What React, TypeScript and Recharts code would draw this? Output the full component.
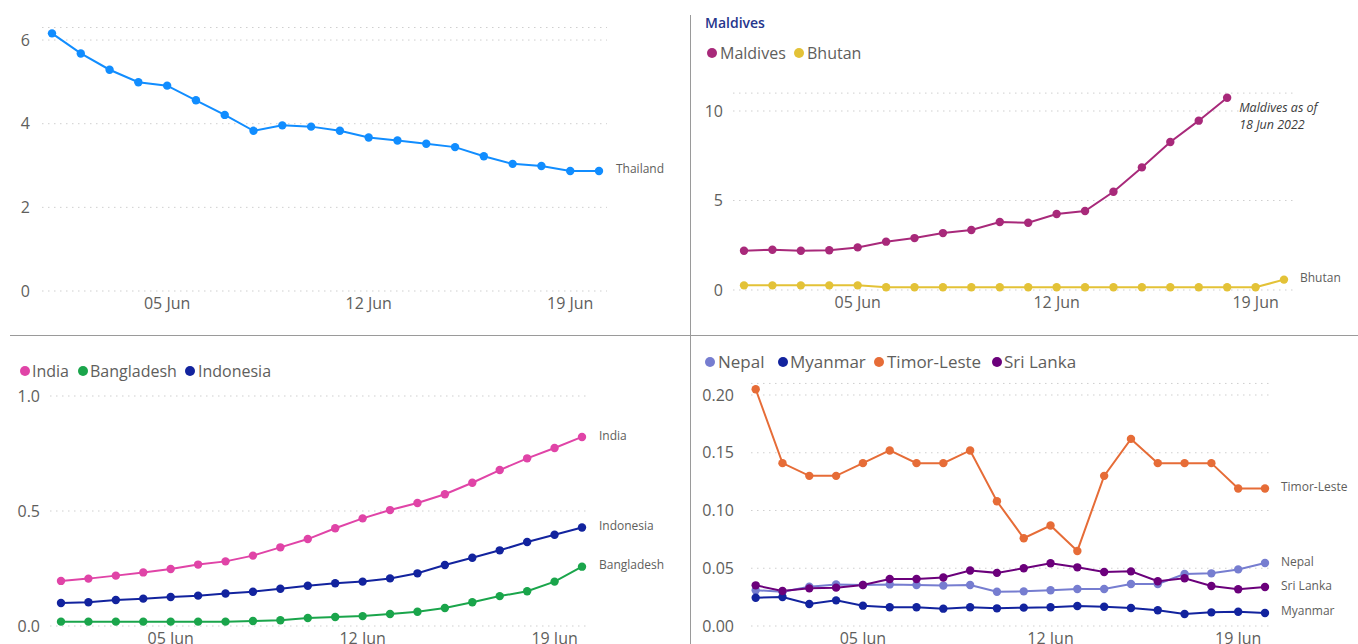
import React from 'react';
import { LineChart, Line, XAxis, YAxis, CartesianGrid } from 'recharts';

// ---------- data ----------
const days = [1, 2, 3, 4, 5, 6, 7, 8, 9, 10, 11, 12, 13, 14, 15, 16, 17, 18, 19, 20];
const xTickDays = [5, 12, 19];

const thailand = [6.16, 5.68, 5.29, 4.99, 4.91, 4.56, 4.21, 3.83, 3.96, 3.93, 3.83, 3.67, 3.6, 3.52, 3.44, 3.22, 3.04, 2.99, 2.87, 2.87];

const maldives = [2.19, 2.25, 2.19, 2.22, 2.38, 2.7, 2.9, 3.18, 3.35, 3.8, 3.76, 4.25, 4.41, 5.49, 6.85, 8.27, 9.46, 10.74, null, null];
const bhutan = [0.26, 0.26, 0.26, 0.26, 0.26, 0.15, 0.15, 0.15, 0.15, 0.15, 0.15, 0.15, 0.15, 0.15, 0.15, 0.15, 0.15, 0.15, 0.15, 0.58];

const india = [0.196, 0.206, 0.219, 0.233, 0.248, 0.267, 0.281, 0.306, 0.342, 0.378, 0.425, 0.468, 0.504, 0.535, 0.573, 0.623, 0.678, 0.729, 0.774, 0.822];
const bangladesh = [0.019, 0.019, 0.019, 0.019, 0.019, 0.019, 0.019, 0.022, 0.025, 0.035, 0.039, 0.043, 0.052, 0.062, 0.078, 0.103, 0.13, 0.151, 0.193, 0.258];
const indonesia = [0.1, 0.103, 0.113, 0.119, 0.126, 0.132, 0.141, 0.149, 0.162, 0.175, 0.186, 0.193, 0.207, 0.229, 0.265, 0.297, 0.329, 0.365, 0.397, 0.428];

const nepal = [0.031, 0.0297, 0.034, 0.036, 0.0355, 0.036, 0.0355, 0.035, 0.0355, 0.0297, 0.03, 0.031, 0.032, 0.032, 0.0364, 0.0364, 0.045, 0.0456, 0.049, 0.0545];
const myanmar = [0.0245, 0.0251, 0.019, 0.0222, 0.0176, 0.0162, 0.0162, 0.015, 0.0162, 0.0153, 0.0159, 0.0162, 0.0173, 0.0167, 0.0156, 0.0136, 0.0104, 0.0118, 0.0124, 0.0113];
const timorLeste = [0.205, 0.141, 0.13, 0.13, 0.141, 0.152, 0.141, 0.141, 0.152, 0.108, 0.076, 0.087, 0.065, 0.13, 0.162, 0.141, 0.141, 0.141, 0.119, 0.119];
const sriLanka = [0.0352, 0.0303, 0.0326, 0.0332, 0.0355, 0.0407, 0.0407, 0.042, 0.048, 0.046, 0.05, 0.0543, 0.0508, 0.0468, 0.0473, 0.0387, 0.0413, 0.0346, 0.0318, 0.0338];

const maldivesNote = ['Maldives as of', '18 Jun 2022'];

// ---------- styling ----------
const FONT = "'Open Sans', 'Noto Sans', sans-serif";
const TICK = '#605E5C';
const GRID = '#CFCFCF';

type EndLabel = { index: number; lines: string[]; dx: number; dy: number; italic?: boolean; size?: number; color?: string; lineGap?: string };
type Series = { key: string; name: string; color: string; values: (number | null)[]; labels?: EndLabel[] };

type PanelProps = {
  left: number; top: number; width: number; height: number;
  plotLeft: number; plotRight: number; plotTop: number; plotBottom: number;
  xDomain: [number, number]; yDomain: [number, number]; yTicks: number[];
  yDecimals: number; yTickMargin: number; series: Series[];
};

const fmtDay = (d: number) => `${String(d).padStart(2, '0')} Jun`;

function makeDot(s: Series) {
  return (p: any) => {
    const { cx, cy, index } = p;
    if (cx == null || cy == null || p.value == null || (Array.isArray(p.value) && p.value[1] == null)) {
      return <g key={`d-${s.key}-${index}`} />;
    }
    const lab = s.labels?.find((l) => l.index === index);
    return (
      <g key={`d-${s.key}-${index}`}>
        <circle cx={cx} cy={cy} r={4.2} fill={s.color} />
        {lab && (
          <text
            x={cx + lab.dx}
            y={cy + lab.dy}
            fill={lab.color ?? TICK}
            fontSize={lab.size ?? 12}
            fontStyle={lab.italic ? 'italic' : 'normal'}
            fontFamily={FONT}
          >
            {lab.lines.map((ln, k) => (
              <tspan key={k} x={cx + lab.dx} dy={k === 0 ? '0.35em' : lab.lineGap ?? '1.4em'}>
                {ln}
              </tspan>
            ))}
          </text>
        )}
      </g>
    );
  };
}

function Panel(props: PanelProps) {
  const { left, top, width, height, plotLeft, plotRight, plotTop, plotBottom, xDomain, yDomain, yTicks, yDecimals, yTickMargin, series } = props;
  const data = days.map((d, i) => {
    const row: any = { day: d };
    series.forEach((s) => (row[s.key] = s.values[i]));
    return row;
  });
  const xAxisH = 30;
  return (
    <div style={{ position: 'absolute', left, top, width, height }}>
      <LineChart
        width={width}
        height={height}
        data={data}
        margin={{ top: plotTop, right: width - plotRight, bottom: height - plotBottom - xAxisH, left: 0 }}
      >
        <CartesianGrid vertical={false} stroke={GRID} strokeDasharray="1.5 4.5" />
        <XAxis
          dataKey="day"
          type="number"
          domain={xDomain}
          ticks={xTickDays}
          tickFormatter={fmtDay}
          axisLine={false}
          tickLine={false}
          tickSize={0}
          tickMargin={7}
          height={xAxisH}
          tick={{ fill: TICK, fontSize: 16, fontFamily: FONT }}
          interval={0}
        />
        <YAxis
          type="number"
          domain={yDomain}
          ticks={yTicks}
          tickFormatter={(v: number) => v.toFixed(yDecimals)}
          axisLine={false}
          tickLine={false}
          tickSize={0}
          tickMargin={yTickMargin}
          width={plotLeft}
          tick={{ fill: TICK, fontSize: 16, fontFamily: FONT }}
          interval={0}
        />
        {series.map((s) => (
          <Line
            key={s.key}
            dataKey={s.key}
            name={s.name}
            type="linear"
            stroke={s.color}
            strokeWidth={2}
            dot={makeDot(s)}
            activeDot={false}
            isAnimationActive={false}
            connectNulls={false}
          />
        ))}
      </LineChart>
    </div>
  );
}

function LegendItem({ cx, tx, y, color, label, size }: { cx: number; tx: number; y: number; color: string; label: string; size: number }) {
  return (
    <>
      <div style={{ position: 'absolute', left: cx - 5, top: y - 5, width: 10, height: 10, borderRadius: 5, background: color }} />
      <div style={{ position: 'absolute', left: tx, top: y - 12, height: 24, lineHeight: '24px', fontSize: size, fontFamily: FONT, color: TICK, whiteSpace: 'nowrap' }}>
        {label}
      </div>
    </>
  );
}

const C = {
  thailand: '#118DFF',
  maldives: '#A8297A',
  bhutan: '#E3C237',
  india: '#E044A7',
  bangladesh: '#1AA54B',
  indonesia: '#12239E',
  nepal: '#767DD0',
  myanmar: '#12239E',
  timor: '#E66C37',
  sri: '#6B007B',
};

export default function App() {
  return (
    <div style={{ position: 'absolute', left: 0, top: 0, width: 1358, height: 644, overflow: 'hidden', background: '#fff' }}>
      {/* Top-left: Thailand */}
      <Panel
        left={0} top={0} width={690} height={336}
        plotLeft={42} plotRight={607} plotTop={27.5} plotBottom={291}
        xDomain={[0.653, 20.278]} yDomain={[0, 6.3]} yTicks={[0, 2, 4, 6]} yDecimals={0} yTickMargin={12}
        series={[{ key: 'thailand', name: 'Thailand', color: C.thailand, values: thailand, labels: [{ index: 19, lines: ['Thailand'], dx: 17, dy: -2 }] }]}
      />

      {/* Top-right: Maldives & Bhutan */}
      <Panel
        left={690} top={0} width={668} height={336}
        plotLeft={43} plotRight={603} plotTop={93.1} plotBottom={290}
        xDomain={[0.613, 20.317]} yDomain={[0, 11]} yTicks={[0, 5, 10]} yDecimals={0} yTickMargin={10}
        series={[
          { key: 'maldives', name: 'Maldives', color: C.maldives, values: maldives, labels: [{ index: 17, lines: maldivesNote, dx: 12, dy: 10.3, italic: true, size: 12.5, color: '#3C3C3C', lineGap: '1.36em' }] },
          { key: 'bhutan', name: 'Bhutan', color: C.bhutan, values: bhutan, labels: [{ index: 19, lines: ['Bhutan'], dx: 16, dy: -1.5 }] },
        ]}
      />

      {/* Bottom-left: India, Bangladesh, Indonesia */}
      <Panel
        left={0} top={336} width={690} height={336}
        plotLeft={50} plotRight={590} plotTop={60} plotBottom={290}
        xDomain={[0.599, 20.292]} yDomain={[0, 1]} yTicks={[0, 0.5, 1]} yDecimals={1} yTickMargin={10}
        series={[
          { key: 'india', name: 'India', color: C.india, values: india, labels: [{ index: 19, lines: ['India'], dx: 17, dy: -1 }] },
          { key: 'bangladesh', name: 'Bangladesh', color: C.bangladesh, values: bangladesh, labels: [{ index: 19, lines: ['Bangladesh'], dx: 17, dy: -1.5 }] },
          { key: 'indonesia', name: 'Indonesia', color: C.indonesia, values: indonesia, labels: [{ index: 19, lines: ['Indonesia'], dx: 17, dy: -1.5 }] },
        ]}
      />

      {/* Bottom-right: Nepal, Myanmar, Timor-Leste, Sri Lanka */}
      <Panel
        left={690} top={336} width={668} height={336}
        plotLeft={61} plotRight={581} plotTop={47.45} plotBottom={290}
        xDomain={[0.825, 20.224]} yDomain={[0, 0.21]} yTicks={[0, 0.05, 0.1, 0.15, 0.2]} yDecimals={2} yTickMargin={17}
        series={[
          { key: 'nepal', name: 'Nepal', color: C.nepal, values: nepal, labels: [{ index: 19, lines: ['Nepal'], dx: 16, dy: -1 }] },
          { key: 'myanmar', name: 'Myanmar', color: C.myanmar, values: myanmar, labels: [{ index: 19, lines: ['Myanmar'], dx: 16, dy: -2 }] },
          { key: 'timor', name: 'Timor-Leste', color: C.timor, values: timorLeste, labels: [{ index: 19, lines: ['Timor-Leste'], dx: 16, dy: -1.5 }] },
          { key: 'sri', name: 'Sri Lanka', color: C.sri, values: sriLanka, labels: [{ index: 19, lines: ['Sri Lanka'], dx: 16, dy: -1 }] },
        ]}
      />

      {/* titles & legends */}
      <div style={{ position: 'absolute', left: 705, top: 12, height: 22, lineHeight: '22px', fontSize: 14, fontWeight: 600, fontFamily: FONT, color: '#26358C' }}>Maldives</div>
      <LegendItem cx={711.7} tx={720} y={52.5} color={C.maldives} label="Maldives" size={16} />
      <LegendItem cx={799.3} tx={807} y={52.5} color={C.bhutan} label="Bhutan" size={16} />

      <LegendItem cx={25} tx={32} y={371} color={C.india} label="India" size={16} />
      <LegendItem cx={82.7} tx={90} y={371} color={C.bangladesh} label="Bangladesh" size={16} />
      <LegendItem cx={190} tx={198} y={371} color={C.indonesia} label="Indonesia" size={16} />

      <LegendItem cx={710} tx={718} y={361.7} color={C.nepal} label="Nepal" size={17} />
      <LegendItem cx={782.7} tx={790} y={361.7} color={C.myanmar} label="Myanmar" size={17} />
      <LegendItem cx={879.3} tx={887} y={361.7} color={C.timor} label="Timor-Leste" size={17} />
      <LegendItem cx={997.3} tx={1004} y={361.7} color={C.sri} label="Sri Lanka" size={17} />

      {/* separators */}
      <div style={{ position: 'absolute', left: 690, top: 15, width: 1, height: 629, background: '#9A9A9A' }} />
      <div style={{ position: 'absolute', left: 10, top: 335, width: 1348, height: 1, background: '#9A9A9A' }} />
    </div>
  );
}
